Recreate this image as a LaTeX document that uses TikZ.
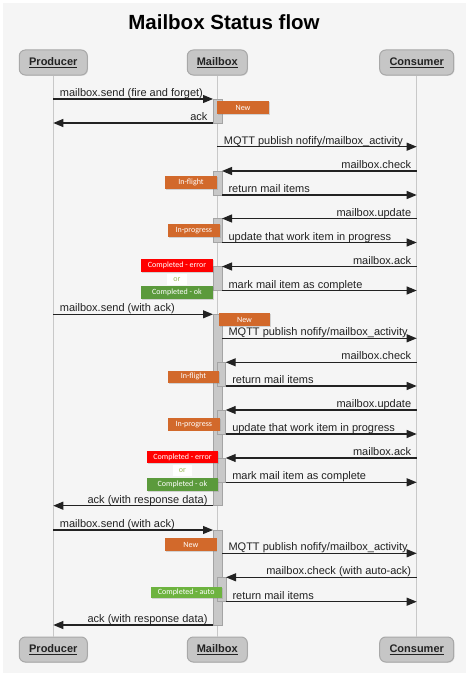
\documentclass[tikz,border=0pt]{standalone}
\usepackage{fontspec}
\setmainfont{Liberation Sans}
\newfontfamily\stfont{Carlito}
\usetikzlibrary{arrows.meta,shadows}
\definecolor{bg}{HTML}{F5F5F5}
\definecolor{partfill}{HTML}{C6C6C6}
\definecolor{partdraw}{HTML}{A8A8A8}
\definecolor{lifeline}{HTML}{C8C8C8}
\definecolor{barfill}{HTML}{C8C8C8}
\definecolor{bardraw}{HTML}{A4A4A4}
\definecolor{storange}{HTML}{D2692B}
\definecolor{stred}{HTML}{FF0000}
\definecolor{stgreen}{HTML}{5B9A3C}
\definecolor{stlgreen}{HTML}{6DB33F}
\definecolor{ortext}{HTML}{9BBB59}
\definecolor{msgcol}{HTML}{222222}
\begin{document}
\begin{tikzpicture}[x=1pt,y=-1pt,
 partbox/.style={draw=partdraw, fill=partfill, line width=1pt, rounded corners=6pt,
   minimum height=25pt, inner sep=0pt, font=\fontsize{11}{13}\selectfont\bfseries, text=msgcol,
   drop shadow={opacity=0.2, shadow xshift=0.8pt, shadow yshift=-0.8pt}},
 life/.style={draw=lifeline, line width=0.8pt},
 actbar/.style={draw=bardraw, fill=barfill, line width=0.6pt},
 msg/.style={draw=msgcol, line width=1.1pt, -{Triangle[length=10pt,width=8pt]}},
 lblr/.style={anchor=base west, inner sep=0pt, xshift=6pt, yshift=2.5pt,
   font=\fontsize{11}{13}\selectfont, text=msgcol},
 lbll/.style={anchor=base east, inner sep=0pt, xshift=-5pt, yshift=2.5pt,
   font=\fontsize{11}{13}\selectfont, text=msgcol},
 stbox/.style={fill=#1, inner sep=0pt, minimum height=13pt, text=white,
   font=\stfont\fontsize{8}{9}\selectfont,
   drop shadow={opacity=0.3, shadow xshift=0.8pt, shadow yshift=-0.8pt}},
 orbox/.style={fill=white, inner sep=0pt, minimum height=11pt, text=ortext,
   font=\stfont\fontsize{8}{9}\selectfont}
]
\useasboundingbox (0,0) rectangle (468,677);
\fill[bg] (3,3) rectangle (466,673);

\node[font=\fontsize{20.5}{24}\selectfont\bfseries, anchor=base] (title) at (224,30) {Mailbox Status flow};

% participants
\node[partbox, minimum width=68pt] (prodT) at (53.3,62.5) {\underline{Producer}};
\node[partbox, minimum width=60pt] (mailT) at (217.3,62.5) {\underline{Mailbox}};
\node[partbox, minimum width=74pt] (consT) at (416.7,62.5) {\underline{Consumer}};
\node[partbox, minimum width=68pt] (prodB) at (53.3,649.5) {\underline{Producer}};
\node[partbox, minimum width=60pt] (mailB) at (217.3,649.5) {\underline{Mailbox}};
\node[partbox, minimum width=74pt] (consB) at (416.7,649.5) {\underline{Consumer}};

\draw[life] (prodT) -- (prodB);
\draw[life] (mailT) -- (mailB);
\draw[life] (consT) -- (consB);

% activation bars
\draw[actbar] (213,99) rectangle (222,123);
\draw[actbar] (213,171) rectangle (222,195);
\draw[actbar] (213,218.5) rectangle (222,242.5);
\draw[actbar] (213,266.5) rectangle (222,290.5);
\draw[actbar] (213,314.3) rectangle (222,505.7);
\draw[actbar] (217,362.3) rectangle (225.7,386);
\draw[actbar] (217,410) rectangle (225.7,434);
\draw[actbar] (217,458) rectangle (225.7,482.3);
\draw[actbar] (213,530) rectangle (222,625);
\draw[actbar] (217,577.3) rectangle (226,601.7);

% endpoints
\coordinate (s1) at (53.3,99);    \coordinate (e1) at (213,99);
\coordinate (s2) at (213,123);    \coordinate (e2) at (53.3,123);
\coordinate (s3) at (217.3,146.7);\coordinate (e3) at (416.7,146.7);
\coordinate (s4) at (416.7,171);  \coordinate (e4) at (222,171);
\coordinate (s5) at (222,195);    \coordinate (e5) at (416.7,195);
\coordinate (s6) at (416.7,218.5);\coordinate (e6) at (222,218.5);
\coordinate (s7) at (222,242.5);  \coordinate (e7) at (416.7,242.5);
\coordinate (s8) at (416.7,266.5);\coordinate (e8) at (222,266.5);
\coordinate (s9) at (222,290.5);  \coordinate (e9) at (416.7,290.5);
\coordinate (s10) at (53.3,314.3);\coordinate (e10) at (213,314.3);
\coordinate (s11) at (222,338.3); \coordinate (e11) at (416.7,338.3);
\coordinate (s12) at (416.7,362.3);\coordinate (e12) at (225.7,362.3);
\coordinate (s13) at (225.7,386); \coordinate (e13) at (416.7,386);
\coordinate (s14) at (416.7,410); \coordinate (e14) at (225.7,410);
\coordinate (s15) at (225.7,434); \coordinate (e15) at (416.7,434);
\coordinate (s16) at (416.7,458); \coordinate (e16) at (225.7,458);
\coordinate (s17) at (225.7,482.3);\coordinate (e17) at (416.7,482.3);
\coordinate (s18) at (213,505.7); \coordinate (e18) at (53.3,505.7);
\coordinate (s19) at (53.3,530);  \coordinate (e19) at (213,530);
\coordinate (s20) at (222,553.3); \coordinate (e20) at (416.7,553.3);
\coordinate (s21) at (416.7,577.3);\coordinate (e21) at (226,577.3);
\coordinate (s22) at (226,601.7); \coordinate (e22) at (416.7,601.7);
\coordinate (s23) at (213,625);   \coordinate (e23) at (53.3,625);

% messages
\draw[msg] (s1) -- (e1) node[lblr, at start] {mailbox.send (fire and forget)};
\draw[msg] (s2) -- (e2) node[lbll, at start] {ack};
\draw[msg] (s3) -- (e3) node[lblr, at start] {MQTT publish nofify/mailbox\_activity};
\draw[msg] (s4) -- (e4) node[lbll, at start] {mailbox.check};
\draw[msg] (s5) -- (e5) node[lblr, at start] {return mail items};
\draw[msg] (s6) -- (e6) node[lbll, at start] {mailbox.update};
\draw[msg] (s7) -- (e7) node[lblr, at start] {update that work item in progress};
\draw[msg] (s8) -- (e8) node[lbll, at start] {mailbox.ack};
\draw[msg] (s9) -- (e9) node[lblr, at start] {mark mail item as complete};
\draw[msg] (s10) -- (e10) node[lblr, at start] {mailbox.send (with ack)};
\draw[msg] (s11) -- (e11) node[lblr, at start] {MQTT publish nofify/mailbox\_activity};
\draw[msg] (s12) -- (e12) node[lbll, at start] {mailbox.check};
\draw[msg] (s13) -- (e13) node[lblr, at start] {return mail items};
\draw[msg] (s14) -- (e14) node[lbll, at start] {mailbox.update};
\draw[msg] (s15) -- (e15) node[lblr, at start] {update that work item in progress};
\draw[msg] (s16) -- (e16) node[lbll, at start] {mailbox.ack};
\draw[msg] (s17) -- (e17) node[lblr, at start] {mark mail item as complete};
\draw[msg] (s18) -- (e18) node[lbll, at start] {ack (with response data)};
\draw[msg] (s19) -- (e19) node[lblr, at start] {mailbox.send (with ack)};
\draw[msg] (s20) -- (e20) node[lblr, at start] {MQTT publish nofify/mailbox\_activity};
\draw[msg] (s21) -- (e21) node[lbll, at start] {mailbox.check (with auto-ack)};
\draw[msg] (s22) -- (e22) node[lblr, at start] {return mail items};
\draw[msg] (s23) -- (e23) node[lbll, at start] {ack (with response data)};

% state boxes
\node[stbox=storange, minimum width=52pt] (new1) at (243,107.5) {New};
\node[stbox=storange, minimum width=52pt] (flight1) at (191,182.2) {In-flight};
\node[stbox=storange, minimum width=52pt] (prog1) at (193.8,230.5) {In-progress};
\node[stbox=stred, minimum width=72pt] (err1) at (177,265.8) {Completed - error};
\node[orbox, minimum width=20.6pt] (or1) at (177,279.5) {or};
\node[stbox=stgreen, minimum width=72pt] (ok1) at (177,292.7) {Completed - ok};

\node[stbox=storange, minimum width=51pt] (new2) at (244.5,319.5) {New};
\node[stbox=storange, minimum width=51.6pt, minimum height=12pt] (flight2) at (193.5,376.7) {In-flight};
\node[stbox=storange, minimum width=52.3pt, minimum height=12.7pt] (prog2) at (193.8,424.3) {In-progress};
\node[stbox=stred, minimum width=71.6pt, minimum height=12.3pt] (err2) at (182.5,457.2) {Completed - error};
\node[orbox, minimum width=19.6pt] (or2) at (182.5,470.5) {or};
\node[stbox=stgreen, minimum width=71.6pt, minimum height=12.4pt] (ok2) at (182.5,484.5) {Completed - ok};

\node[stbox=storange, minimum width=51.7pt, minimum height=12.4pt] (new3) at (190.8,544.5) {New};
\node[stbox=stlgreen, minimum width=71pt, minimum height=11.6pt] (auto3) at (186.2,592.5) {Completed - auto};
\end{tikzpicture}
\end{document}
